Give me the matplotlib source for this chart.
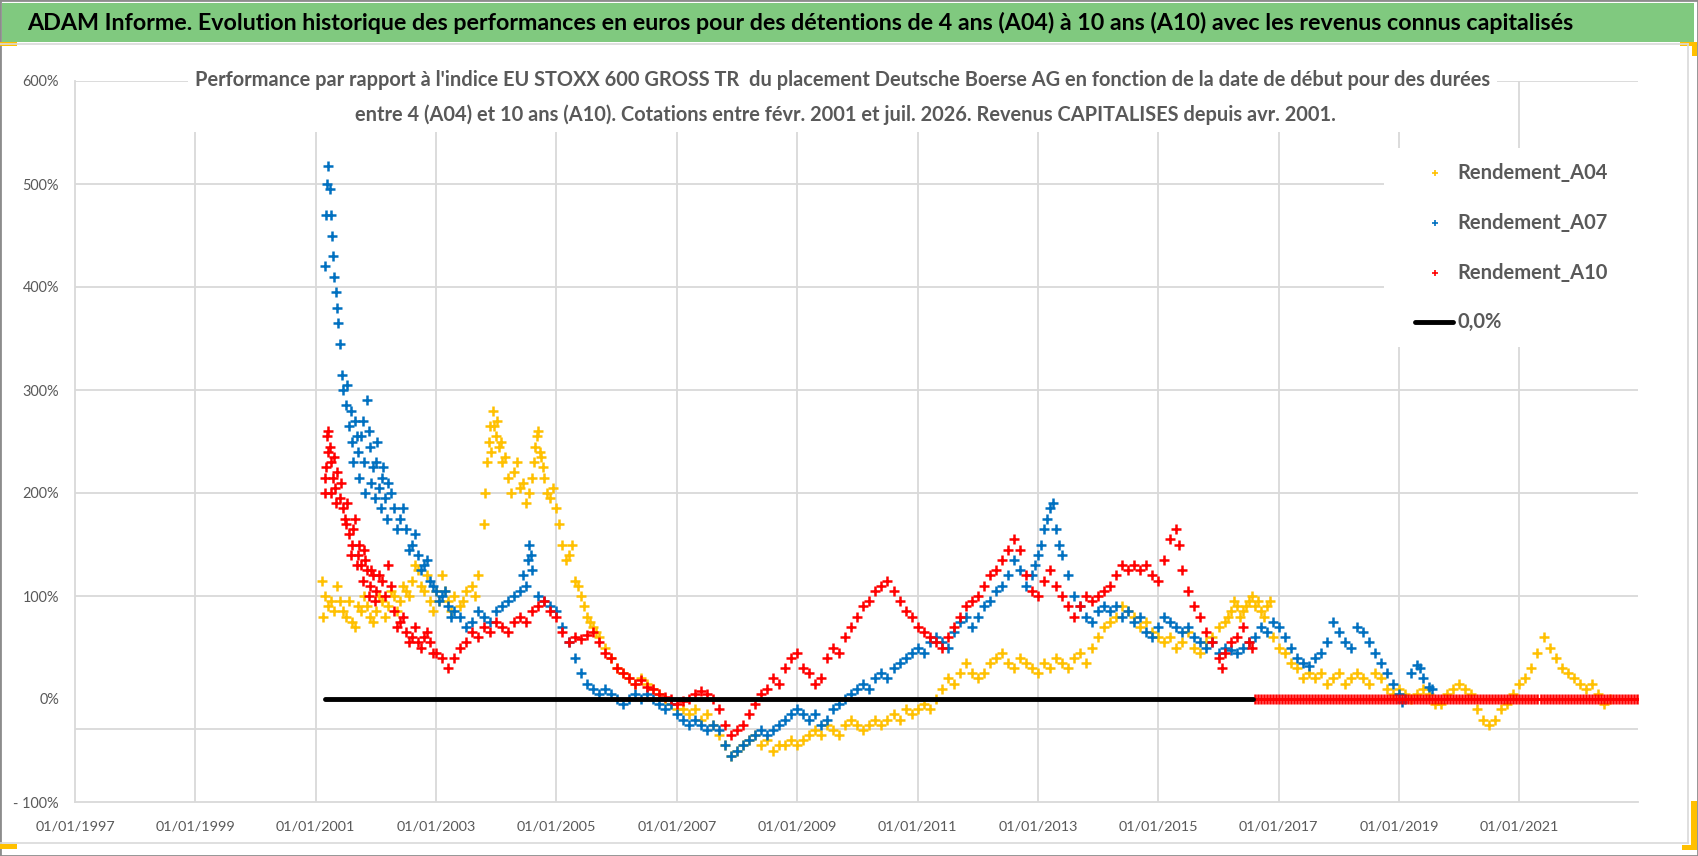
import matplotlib
matplotlib.use('Agg')
import matplotlib.pyplot as plt
from matplotlib.patches import Rectangle
from matplotlib.lines import Line2D

# ---- data (decimal year of start date, performance in %) ----
A04_YEARS = [2001.10, 2001.12, 2001.15, 2001.2, 2001.3, 2001.4, 2001.5, 2001.6, 2001.7, 2001.8, 2001.9,
             2002.0, 2002.1, 2002.2, 2002.3, 2002.4, 2002.5, 2002.6, 2002.7, 2002.8, 2002.9,
             2003.0, 2003.1, 2003.2, 2003.3, 2003.4, 2003.5, 2003.6, 2003.7, 2003.8, 2003.85, 2003.9, 2003.95,
             2004.0, 2004.05, 2004.1, 2004.2, 2004.3, 2004.4, 2004.5, 2004.6, 2004.65, 2004.7, 2004.75, 2004.8, 2004.9,
             2005.0, 2005.1, 2005.2, 2005.3, 2005.4, 2005.5, 2005.6, 2005.7, 2005.8, 2005.9,
             2006.0, 2006.1, 2006.2, 2006.3, 2006.4, 2006.5, 2006.6, 2006.7, 2006.8, 2006.9,
             2007.0, 2007.1, 2007.2, 2007.3, 2007.4, 2007.5, 2007.6, 2007.7, 2007.8, 2007.9,
             2008.0, 2008.1, 2008.2, 2008.3, 2008.4, 2008.5, 2008.6, 2008.7, 2008.8, 2008.9,
             2009.0, 2009.1, 2009.2, 2009.3, 2009.4, 2009.5, 2009.6, 2009.7, 2009.8, 2009.9,
             2010.0, 2010.1, 2010.2, 2010.3, 2010.4, 2010.5, 2010.6, 2010.7, 2010.8, 2010.9,
             2011.0, 2011.1, 2011.2, 2011.3, 2011.4, 2011.5, 2011.6, 2011.7, 2011.8, 2011.9,
             2012.0, 2012.1, 2012.2, 2012.3, 2012.4, 2012.5, 2012.6, 2012.7, 2012.8, 2012.9,
             2013.0, 2013.1, 2013.2, 2013.3, 2013.4, 2013.5, 2013.6, 2013.7, 2013.8, 2013.9,
             2014.0, 2014.1, 2014.2, 2014.3, 2014.4, 2014.5, 2014.6, 2014.7, 2014.8, 2014.9,
             2015.0, 2015.1, 2015.2, 2015.3, 2015.4, 2015.5, 2015.6, 2015.7, 2015.8, 2015.9,
             2016.0, 2016.1, 2016.2, 2016.3, 2016.4, 2016.5, 2016.6, 2016.7, 2016.8, 2016.9,
             2017.0, 2017.1, 2017.2, 2017.3, 2017.4, 2017.5, 2017.6, 2017.7, 2017.8, 2017.9,
             2018.0, 2018.1, 2018.2, 2018.3, 2018.4, 2018.5, 2018.6, 2018.7, 2018.8, 2018.9,
             2019.0, 2019.1, 2019.2, 2019.3, 2019.4, 2019.5, 2019.6, 2019.7, 2019.8, 2019.9,
             2020.0, 2020.1, 2020.2, 2020.3, 2020.4, 2020.5, 2020.6, 2020.7, 2020.8, 2020.9,
             2021.0, 2021.1, 2021.2, 2021.3, 2021.4, 2021.5, 2021.6, 2021.7, 2021.8, 2021.9,
             2022.0, 2022.1, 2022.2, 2022.3, 2022.4, 2022.5]
A04_VALUES = [115, 80, 100, 90, 85, 95, 80, 75, 90, 100, 80,
              85, 95, 90, 100, 95, 105, 115, 125, 105, 95,
              105, 120, 95, 100, 90, 105, 110, 120, 170, 230, 265, 280,
              255, 245, 230, 215, 220, 205, 190, 215, 245, 260, 235, 215, 195,
              185, 150, 140, 115, 100, 80, 70, 60, 50, 40,
              30, 25, 20, 15, 20, 15, 10, 5, 0, -5,
              -10, -10, -15, -10, -20, -15, -25, -35, -45, -55,
              -50, -45, -40, -35, -45, -40, -50, -45, -45, -40,
              -45, -40, -35, -30, -35, -25, -30, -35, -25, -20,
              -25, -30, -25, -20, -25, -20, -15, -20, -10, -15,
              -10, -5, -10, 0, 10, 20, 15, 25, 35, 25,
              20, 25, 35, 40, 45, 35, 30, 40, 35, 30,
              25, 35, 30, 40, 35, 30, 40, 45, 35, 50,
              60, 70, 75, 80, 90, 85, 80, 70, 75, 65,
              60, 55, 60, 50, 55, 65, 50, 45, 55, 60,
              70, 75, 85, 90, 85, 95, 90, 85, 90, 60,
              50, 45, 35, 30, 20, 25, 20, 25, 15, 20,
              25, 15, 20, 25, 20, 15, 25, 20, 10, 5,
              10, 5, 0, 5, 10, 5, -5, -5, 5, 10,
              15, 10, 5, -10, -20, -25, -20, -10, -5, 5,
              15, 20, 30, 45, 60, 50, 40, 30, 25, 20,
              15, 10, 15, 5, -5, 0]
# second readings where the yellow band is wide
A04_EXTRA_YEARS = [2001.25, 2001.35, 2001.45, 2001.55, 2001.65, 2001.75, 2001.85, 2001.95,
                   2002.05, 2002.15, 2002.25, 2002.35, 2002.45, 2002.55, 2002.65, 2002.75, 2002.85, 2002.95,
                   2003.05, 2003.15, 2003.25, 2003.45, 2003.65,
                   2003.82, 2003.88, 2003.92, 2003.97, 2004.02, 2004.08, 2004.15, 2004.25, 2004.35,
                   2004.45, 2004.55, 2004.62, 2004.68, 2004.72, 2004.78, 2004.85, 2004.95,
                   2005.05, 2005.15, 2005.25, 2005.35, 2005.45, 2005.55, 2005.65,
                   2016.15, 2016.25, 2016.35, 2016.45, 2016.55, 2016.65, 2016.75, 2016.85]
A04_EXTRA_VALUES = [95, 110, 85, 95, 70, 85, 90, 75,
                    100, 80, 105, 85, 110, 100, 130, 110, 120, 85,
                    95, 105, 85, 95, 100,
                    200, 250, 240, 265, 270, 250, 235, 200, 230,
                    210, 200, 230, 255, 240, 225, 200, 205,
                    170, 135, 150, 110, 90, 75, 65,
                    80, 95, 80, 90, 100, 95, 80, 95]

A07_YEARS = [2001.15, 2001.17, 2001.19, 2001.21, 2001.23, 2001.25, 2001.27, 2001.29, 2001.31, 2001.33,
             2001.35, 2001.37, 2001.40, 2001.43, 2001.46, 2001.5, 2001.55, 2001.6, 2001.65, 2001.7,
             2001.75, 2001.8, 2001.85, 2001.9, 2001.95, 2002.0, 2002.05, 2002.1, 2002.15, 2002.2,
             2002.3, 2002.4, 2002.5, 2002.6, 2002.7, 2002.8, 2002.9,
             2003.0, 2003.1, 2003.2, 2003.3, 2003.4, 2003.5, 2003.6, 2003.7, 2003.8, 2003.9,
             2004.0, 2004.1, 2004.2, 2004.3, 2004.4, 2004.5, 2004.55, 2004.6, 2004.7, 2004.8, 2004.9,
             2005.0, 2005.1, 2005.2, 2005.3, 2005.4, 2005.5, 2005.6, 2005.7, 2005.8, 2005.9,
             2006.0, 2006.1, 2006.2, 2006.3, 2006.4, 2006.5, 2006.6, 2006.7, 2006.8, 2006.9,
             2007.0, 2007.1, 2007.2, 2007.3, 2007.4, 2007.5, 2007.6, 2007.7, 2007.8, 2007.9,
             2008.0, 2008.1, 2008.2, 2008.3, 2008.4, 2008.5, 2008.6, 2008.7, 2008.8, 2008.9,
             2009.0, 2009.1, 2009.2, 2009.3, 2009.4, 2009.5, 2009.6, 2009.7, 2009.8, 2009.9,
             2010.0, 2010.1, 2010.2, 2010.3, 2010.4, 2010.5, 2010.6, 2010.7, 2010.8, 2010.9,
             2011.0, 2011.1, 2011.2, 2011.3, 2011.4, 2011.5, 2011.6, 2011.7, 2011.8, 2011.9,
             2012.0, 2012.1, 2012.2, 2012.3, 2012.4, 2012.5, 2012.6, 2012.7, 2012.8, 2012.9,
             2013.0, 2013.1, 2013.2, 2013.3, 2013.4, 2013.5, 2013.6, 2013.7, 2013.8, 2013.9,
             2014.0, 2014.1, 2014.2, 2014.3, 2014.4, 2014.5, 2014.6, 2014.7, 2014.8, 2014.9,
             2015.0, 2015.1, 2015.2, 2015.3, 2015.4, 2015.5, 2015.6, 2015.7, 2015.8, 2015.9,
             2016.0, 2016.1, 2016.2, 2016.3, 2016.4, 2016.5, 2016.6, 2016.7, 2016.8, 2016.9,
             2017.0, 2017.1, 2017.2, 2017.3, 2017.4, 2017.5, 2017.6, 2017.7, 2017.8, 2017.9,
             2018.0, 2018.1, 2018.2, 2018.3, 2018.4, 2018.5, 2018.6, 2018.7, 2018.8, 2018.9,
             2019.0, 2019.05, 2019.1, 2019.2, 2019.3, 2019.35, 2019.4, 2019.5, 2019.55]
A07_VALUES = [420, 470, 500, 517, 495, 470, 450, 430, 410, 395,
              380, 365, 345, 315, 300, 285, 265, 250, 270, 240,
              255, 230, 290, 245, 225, 230, 205, 215, 195, 210,
              185, 175, 165, 150, 140, 130, 115,
              105, 100, 90, 85, 80, 70, 75, 85, 80, 75,
              85, 90, 95, 100, 105, 110, 150, 125, 100, 95, 90,
              85, 70, 55, 40, 25, 15, 10, 5, 10, 5,
              0, -5, 0, 5, 0, 5, 0, -5, -10, -5,
              -15, -20, -25, -20, -25, -30, -25, -30, -45, -55,
              -50, -45, -40, -35, -30, -35, -30, -25, -20, -15,
              -10, -15, -20, -15, -25, -20, -10, -5, 0, 5,
              10, 15, 10, 20, 25, 20, 30, 35, 40, 45,
              50, 45, 55, 60, 55, 50, 65, 75, 80, 70,
              80, 90, 95, 105, 110, 120, 135, 125, 110, 120,
              140, 165, 185, 165, 140, 120, 100, 90, 80, 75,
              85, 90, 85, 90, 80, 85, 75, 80, 65, 60,
              70, 80, 75, 70, 65, 70, 60, 55, 50, 55,
              45, 50, 48, 45, 50, 55, 60, 70, 65, 75,
              70, 60, 50, 40, 35, 32, 40, 45, 55, 75,
              65, 55, 50, 70, 65, 55, 45, 35, 25, 15,
              5, -3, 0, 25, 33, 30, 20, 12, 10]
A07_EXTRA_YEARS = [2001.52, 2001.58, 2001.62, 2001.68, 2001.72, 2001.78, 2001.82, 2001.88, 2001.92, 2001.98,
                   2002.02, 2002.08, 2002.12, 2002.18, 2002.25, 2002.35, 2002.45, 2002.55, 2002.65, 2002.75,
                   2002.85, 2002.95, 2003.05, 2003.15, 2003.25, 2004.45, 2004.52, 2004.58,
                   2012.95, 2013.05, 2013.15, 2013.25, 2013.35]
A07_EXTRA_VALUES = [305, 280, 230, 255, 215, 270, 200, 260, 210, 195,
                    250, 185, 225, 175, 200, 165, 185, 145, 160, 125,
                    135, 110, 95, 105, 80, 120, 135, 140,
                    130, 150, 175, 190, 150]

A10_YEARS = [2001.15, 2001.17, 2001.19, 2001.21, 2001.23, 2001.25, 2001.28, 2001.32, 2001.36, 2001.4,
             2001.45, 2001.5, 2001.55, 2001.6, 2001.65, 2001.7, 2001.75, 2001.8, 2001.85, 2001.9, 2001.95,
             2002.0, 2002.1, 2002.2, 2002.25, 2002.3, 2002.4, 2002.5, 2002.6, 2002.7, 2002.8, 2002.9,
             2003.0, 2003.1, 2003.2, 2003.3, 2003.4, 2003.5, 2003.6, 2003.7, 2003.8, 2003.9,
             2004.0, 2004.1, 2004.2, 2004.3, 2004.4, 2004.5, 2004.6, 2004.7, 2004.8, 2004.9,
             2005.0, 2005.1, 2005.2, 2005.3, 2005.4, 2005.5, 2005.6, 2005.7, 2005.8, 2005.9,
             2006.0, 2006.1, 2006.2, 2006.3, 2006.4, 2006.5, 2006.6, 2006.7, 2006.8, 2006.9,
             2007.0, 2007.1, 2007.2, 2007.3, 2007.4, 2007.5, 2007.6, 2007.7, 2007.8, 2007.9,
             2008.0, 2008.1, 2008.2, 2008.3, 2008.4, 2008.5, 2008.6, 2008.7, 2008.8, 2008.9,
             2009.0, 2009.1, 2009.2, 2009.3, 2009.4, 2009.5, 2009.6, 2009.7, 2009.8, 2009.9,
             2010.0, 2010.1, 2010.2, 2010.3, 2010.4, 2010.5, 2010.6, 2010.7, 2010.8, 2010.9,
             2011.0, 2011.1, 2011.2, 2011.3, 2011.4, 2011.5, 2011.6, 2011.7, 2011.8, 2011.9,
             2012.0, 2012.1, 2012.2, 2012.3, 2012.4, 2012.5, 2012.6, 2012.7, 2012.8, 2012.9,
             2013.0, 2013.1, 2013.2, 2013.3, 2013.4, 2013.5, 2013.6, 2013.7, 2013.8, 2013.9,
             2014.0, 2014.1, 2014.2, 2014.3, 2014.4, 2014.5, 2014.6, 2014.7, 2014.8, 2014.9,
             2015.0, 2015.1, 2015.2, 2015.3, 2015.35, 2015.4, 2015.5, 2015.6, 2015.7, 2015.8, 2015.9,
             2016.0, 2016.05, 2016.1, 2016.2, 2016.3, 2016.4, 2016.5, 2016.55]
A10_VALUES = [200, 225, 255, 260, 245, 230, 215, 205, 220, 195,
              185, 170, 160, 150, 175, 140, 130, 145, 125, 110, 120,
              105, 115, 130, 110, 85, 75, 65, 60, 55, 60, 55,
              45, 40, 30, 40, 50, 55, 65, 60, 70, 65,
              75, 70, 65, 75, 80, 75, 85, 90, 95, 85,
              80, 65, 55, 60, 58, 62, 65, 55, 45, 40,
              30, 25, 20, 15, 18, 12, 10, 5, 2, 0,
              -5, -2, 0, 5, 8, 5, 0, -10, -25, -35,
              -30, -25, -15, -5, 5, 10, 20, 15, 30, 40,
              45, 30, 25, 15, 20, 40, 50, 45, 60, 70,
              80, 90, 95, 105, 110, 115, 105, 95, 85, 80,
              70, 65, 60, 55, 50, 60, 70, 80, 90, 95,
              100, 110, 120, 125, 135, 145, 155, 145, 120, 105,
              100, 115, 125, 110, 100, 90, 80, 90, 100, 95,
              100, 105, 110, 120, 130, 125, 130, 125, 130, 120,
              115, 135, 155, 165, 150, 125, 105, 90, 80, 65, 55,
              40, 30, 45, 55, 60, 70, 55, 50]
A10_EXTRA_YEARS = [2001.16, 2001.2, 2001.26, 2001.3, 2001.34, 2001.42, 2001.48, 2001.52, 2001.58, 2001.62,
                   2001.68, 2001.72, 2001.78, 2001.82, 2001.88, 2001.92, 2001.98, 2002.05, 2002.15,
                   2002.35, 2002.45, 2002.55, 2002.65, 2002.75, 2002.85, 2002.95]
A10_EXTRA_VALUES = [215, 240, 200, 235, 190, 210, 175, 190, 140, 165,
                    130, 150, 115, 135, 100, 125, 95, 120, 100,
                    70, 80, 55, 70, 50, 65, 45]
# A10 stays at 0 % after its last known start date (dense red band on the zero line)
A10_TAIL_YEARS = [2016.60, 2016.65, 2016.70, 2016.75, 2016.80, 2016.85, 2016.90, 2016.95,
                  2017.00, 2017.05, 2017.10, 2017.15, 2017.20, 2017.25, 2017.30, 2017.35, 2017.40, 2017.45,
                  2017.50, 2017.55, 2017.60, 2017.65, 2017.70, 2017.75, 2017.80, 2017.85, 2017.90, 2017.95,
                  2018.00, 2018.05, 2018.10, 2018.15, 2018.20, 2018.25, 2018.30, 2018.35, 2018.40, 2018.45,
                  2018.50, 2018.55, 2018.60, 2018.65, 2018.70, 2018.75, 2018.80, 2018.85, 2018.90, 2018.95,
                  2019.00, 2019.05, 2019.10, 2019.15, 2019.20, 2019.25, 2019.30, 2019.35, 2019.40, 2019.45,
                  2019.50, 2019.55, 2019.60, 2019.65, 2019.70, 2019.75, 2019.80, 2019.85, 2019.90, 2019.95,
                  2020.00, 2020.05, 2020.10, 2020.15, 2020.20, 2020.25, 2020.30, 2020.35, 2020.40, 2020.45,
                  2020.50, 2020.55, 2020.60, 2020.65, 2020.70, 2020.75, 2020.80, 2020.85, 2020.90, 2020.95,
                  2021.00, 2021.05, 2021.10, 2021.15, 2021.20, 2021.25, 2021.30, 2021.35, 2021.40, 2021.45,
                  2021.50, 2021.55, 2021.60, 2021.65, 2021.70, 2021.75, 2021.80, 2021.85, 2021.90, 2021.95,
                  2022.00, 2022.05, 2022.10, 2022.15, 2022.20, 2022.25, 2022.30, 2022.35, 2022.40, 2022.45,
                  2022.50, 2022.55, 2022.60, 2022.65, 2022.70, 2022.75, 2022.80, 2022.85, 2022.90, 2022.95]
A10_TAIL_VALUES = [0] * len(A10_TAIL_YEARS)

ZERO_YEARS = [2001.15, 2016.58]
ZERO_VALUES = [0, 0]

SERIES = [('Rendement_A04', A04_YEARS + A04_EXTRA_YEARS, A04_VALUES + A04_EXTRA_VALUES, '#FFC000'),
          ('Rendement_A07', A07_YEARS + A07_EXTRA_YEARS, A07_VALUES + A07_EXTRA_VALUES, '#0070C0'),
          ('Rendement_A10', A10_YEARS + A10_EXTRA_YEARS + A10_TAIL_YEARS,
           A10_VALUES + A10_EXTRA_VALUES + A10_TAIL_VALUES, '#FF0000')]

Y_TICKS = [-100, 0, 100, 200, 300, 400, 500, 600]
Y_LABELS = ['- 100%', '0%', '100%', '200%', '300%', '400%', '500%', '600%']
X_TICKS = [1997, 1999, 2001, 2003, 2005, 2007, 2009, 2011, 2013, 2015, 2017, 2019, 2021]
X_LABELS = ['01/01/%d' % y for y in X_TICKS]

TITLE = ('ADAM Informe. Evolution historique des performances en euros pour des détentions '
         'de 4 ans (A04) à 10 ans (A10) avec les revenus connus capitalisés')
SUB1 = ("Performance par rapport à l'indice EU STOXX 600 GROSS TR  du placement Deutsche Boerse AG "
        "en fonction de la date de début pour des durées")
SUB2 = ("entre 4 (A04) et 10 ans (A10). Cotations entre févr. 2001 et juil. 2026. "
        "Revenus CAPITALISES depuis avr. 2001.")

# ---- layout ----
W, H = 1698, 856
GRID = '#D9D9D9'
TXT = '#595959'
plt.rcParams['font.family'] = ['Lato', 'DejaVu Sans']

fig = plt.figure(figsize=(W / 100, H / 100), dpi=100)
renderer = fig.canvas.get_renderer()


def fx(x):
    return x / W


def fy(y):
    return 1 - y / H


def fit_size(text, target, weight='normal', base=20):
    t = fig.text(0, 0, text, fontsize=base, fontweight=weight)
    w = t.get_window_extent(renderer).width
    t.remove()
    return base * target / w


ax = fig.add_axes([fx(75), fy(802), (1638 - 75) / W, (802 - 81) / H])
ax.set_xlim(1997.0, 2022.97)
ax.set_ylim(-100, 600)

for v in [100, 200, 300, 400, 500, 600, -29]:
    ax.axhline(v, color=GRID, lw=1.3, zorder=0.5)
for yr in X_TICKS[1:]:
    ax.axvline(yr, color=GRID, lw=1.3, zorder=0.5)

for s in ['top', 'right']:
    ax.spines[s].set_visible(False)
for s in ['left', 'bottom']:
    ax.spines[s].set_color(GRID)
    ax.spines[s].set_linewidth(1.3)

tick_fs = fit_size('01/01/1997', 80)
ytick_fs = fit_size('600%', 37)
ax.set_xticks(X_TICKS)
ax.set_xticklabels(X_LABELS, fontsize=tick_fs, color=TXT)
ax.set_yticks(Y_TICKS)
ax.set_yticklabels(Y_LABELS, fontsize=ytick_fs, color=TXT)
ax.tick_params(axis='x', length=0, pad=13)
ax.tick_params(axis='y', length=0, pad=11.5)

for name, xs, ys, col in SERIES:
    ax.plot(xs, ys, linestyle='none', marker='+', ms=7, mew=1.8, color=col, zorder=3)
ax.plot(ZERO_YEARS, ZERO_VALUES, color='black', lw=3.5, solid_capstyle='round', zorder=4)

# ---- frame, title band and selection marks ----
fig.patches.append(Rectangle((0, 0), 1, 1, transform=fig.transFigure, fill=False,
                             edgecolor='#8C8C8C', lw=2))
fig.patches.append(Rectangle((fx(2), fy(42)), (1694 - 2) / W, (42 - 3) / H,
                             transform=fig.transFigure, color='#80C97F', lw=0))
for (x0, y0, x1, y1) in [(0, 44, 1688, 44), (1688, 44, 1688, 843), (0, 843, 1688, 843)]:
    fig.lines.append(Line2D([fx(x0), fx(x1)], [fy(y0), fy(y1)], transform=fig.transFigure,
                            color=GRID, lw=1.2))
ORANGE = '#FFC000'
for (x0, y0, x1, y1) in [(0, 42, 17, 46), (1680, 42, 1697, 46), (1692, 42, 1697, 56),
                         (0, 844, 17, 849), (1691, 801, 1697, 850), (1682, 845, 1697, 850)]:
    fig.patches.append(Rectangle((fx(x0), fy(y1)), (x1 - x0) / W, (y1 - y0) / H,
                                 transform=fig.transFigure, color=ORANGE, lw=0))

title_fs = fit_size(TITLE, 1555, 'bold')
fig.text(fx(27), fy(23), TITLE, fontsize=title_fs, fontweight='bold', color='black',
         ha='left', va='center')

# subtitle box
fig.patches.append(Rectangle((fx(188), fy(132)), (1497 - 188) / W, (132 - 62) / H,
                             transform=fig.transFigure, color='white', lw=0))
sub_fs = fit_size(SUB1, 1295, 'bold')
fig.text(fx(843), fy(80), SUB1, fontsize=sub_fs, fontweight='bold', color=TXT,
         ha='center', va='center')
fig.text(fx(845), fy(115), SUB2, fontsize=sub_fs, fontweight='bold', color=TXT,
         ha='center', va='center')

# legend
fig.patches.append(Rectangle((fx(1384), fy(347)), (1640 - 1384) / W, (347 - 148) / H,
                             transform=fig.transFigure, color='white', lw=0))
leg_fs = fit_size('Rendement_A04', 151, 'bold')
for (name, xs, ys, col), yy in zip(SERIES, [173, 223, 273]):
    fig.lines.append(Line2D([fx(1435)], [fy(yy)], transform=fig.transFigure, linestyle='none',
                            marker='+', ms=5, mew=1.2, color=col))
    fig.text(fx(1457), fy(yy), name, fontsize=leg_fs, fontweight='bold', color=TXT,
             ha='left', va='center')
fig.lines.append(Line2D([fx(1415), fx(1453)], [fy(322), fy(322)], transform=fig.transFigure,
                        color='black', lw=3.5, solid_capstyle='round'))
fig.text(fx(1457), fy(322), '0,0%', fontsize=leg_fs, fontweight='bold', color=TXT,
         ha='left', va='center')

fig.savefig('out.png', dpi=100)
